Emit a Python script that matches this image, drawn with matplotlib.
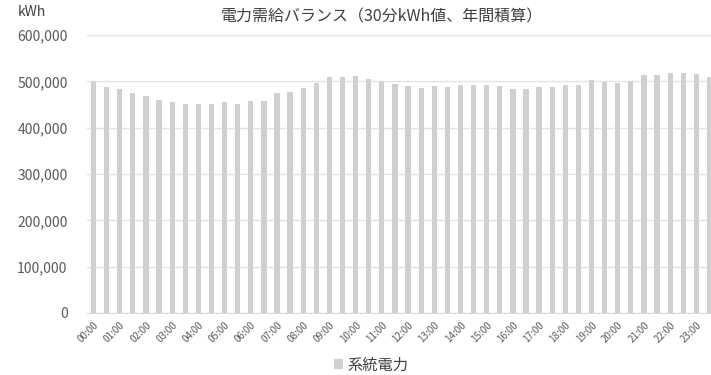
import matplotlib
matplotlib.use("Agg")
import matplotlib.pyplot as plt
from matplotlib.ticker import FuncFormatter

plt.rcParams['font.family'] = ['Noto Sans CJK JP', 'DejaVu Sans']

# Half-hourly grid power, yearly totals (kWh)
slots = [f"{h:02d}:{m:02d}" for h in range(24) for m in (0, 30)]
grid_kwh = [
    500000, 488000, 482500, 474000, 469000, 460000, 455000, 451000,
    451000, 451000, 455500, 452000, 458000, 458000, 474500, 477000,
    486000, 495500, 509500, 509500, 511000, 504000, 500000, 495000,
    489000, 485500, 490500, 488000, 493000, 491500, 491500, 489000,
    484500, 484500, 488000, 487000, 493000, 491500, 502000, 499000,
    495500, 500000, 513000, 513000, 519000, 517500, 516000, 509500,
]
hour_labels = [f"{h:02d}:00" for h in range(24)]
series_name = "系統電力"
title = "電力需給バランス（30分kWh値、年間積算）"

fig = plt.figure(figsize=(7.11, 3.75), dpi=100)
ax = fig.add_axes([87 / 711, 1 - 313 / 375, (716 - 87) / 711, (313 - 35) / 375])

x = list(range(len(slots)))
ax.bar(x, grid_kwh, width=0.4, color="#d0d0d0", label=series_name, zorder=2)

ax.set_xlim(-0.5, len(slots) - 0.5)
ax.set_ylim(0, 600000)
ax.set_yticks(range(0, 600001, 100000))
ax.yaxis.set_major_formatter(FuncFormatter(lambda v, p: f"{int(v):,}"))
ax.grid(axis="y", color="#e4e4e4", linewidth=1, zorder=0)
ax.set_xticks(x[::2])
ax.set_xticklabels(hour_labels, rotation=45, ha="right", va="top",
                   rotation_mode="anchor", fontsize=7, color="#595959")
ax.tick_params(axis="x", length=0, pad=5)
ax.tick_params(axis="y", length=0, pad=14, labelsize=10, labelcolor="#595959")
for s in ("top", "right", "left"):
    ax.spines[s].set_visible(False)
ax.spines["bottom"].set_color("#d9d9d9")

fig.text(382 / 711, 1 - 17 / 375, title, ha="center", va="center",
         fontsize=11.5, color="#404040")
fig.text(18 / 711, 1 - 12 / 375, "kWh", ha="left", va="center",
         fontsize=10, color="#404040")

fig.legend(loc="center", bbox_to_anchor=(371 / 711, 1 - 365 / 375),
           frameon=False, fontsize=11, handlelength=0.6, handleheight=0.6,
           handletextpad=0.3, labelcolor="#404040")

fig.savefig("out.png", dpi=100)
